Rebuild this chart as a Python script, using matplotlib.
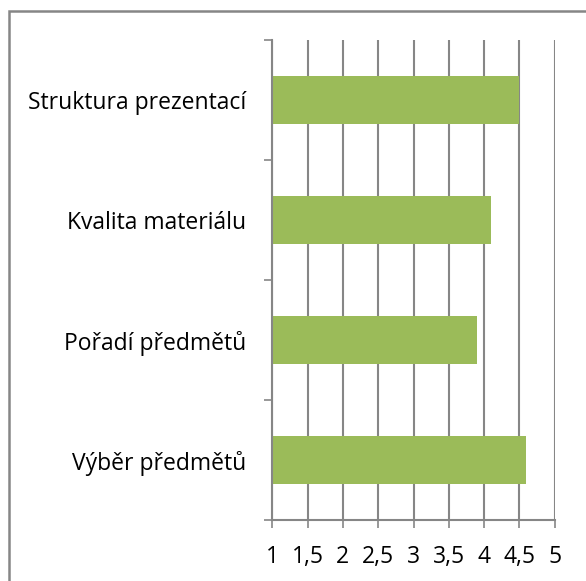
import matplotlib
matplotlib.use("Agg")
import matplotlib.pyplot as plt
from matplotlib.patches import Rectangle

categories = ["Výběr předmětů", "Pořadí předmětů", "Kvalita materiálu", "Struktura prezentací"]
values = [4.6, 3.9, 4.1, 4.5]
xticks = [1, 1.5, 2, 2.5, 3, 3.5, 4, 4.5, 5]
xtick_labels = ["1", "1,5", "2", "2,5", "3", "3,5", "4", "4,5", "5"]

plt.rcParams['font.family'] = ['Open Sans', 'DejaVu Sans']

W, H = 586, 581
fig = plt.figure(figsize=(W / 100, H / 100), dpi=100)
ax = fig.add_axes([272.3 / W, (H - 520) / H, (554.7 - 272.3) / W, 480 / H])

grid_c = "#868686"
ax.barh(range(len(categories)), [v - 1 for v in values], left=1, height=0.4,
        color="#9BBB59", zorder=3)
ax.set_xlim(1, 5)
ax.set_ylim(-0.5, len(categories) - 0.5)

ax.set_xticks(xticks)
ax.set_xticklabels(xtick_labels, fontsize=16.5)
ax.set_yticks(range(len(categories)))
ax.set_yticklabels(categories, fontsize=16.5)
ax.tick_params(axis='y', length=0, pad=19)
ax.set_yticks([i - 0.5 for i in range(len(categories) + 1)], minor=True)
ax.tick_params(axis='y', which='minor', length=6, width=1.2, color=grid_c, direction='out')
ax.tick_params(axis='x', length=6, width=1.2, color=grid_c, direction='out', pad=12)

for x in xticks:
    ax.axvline(x, color=grid_c, lw=1.5, zorder=1)

for s in ['top', 'right']:
    ax.spines[s].set_visible(False)
ax.spines['left'].set_color(grid_c)
ax.spines['left'].set_linewidth(1.5)
ax.spines['bottom'].set_color(grid_c)
ax.spines['bottom'].set_linewidth(1.5)
ax.spines['left'].set_zorder(4)

fig.patches.append(Rectangle((8.5 / W, -0.1), 1.2, (H - 10.5) / H + 0.1,
                             transform=fig.transFigure, fill=False,
                             edgecolor=grid_c, lw=1.8))

fig.savefig("out.png", dpi=100)
